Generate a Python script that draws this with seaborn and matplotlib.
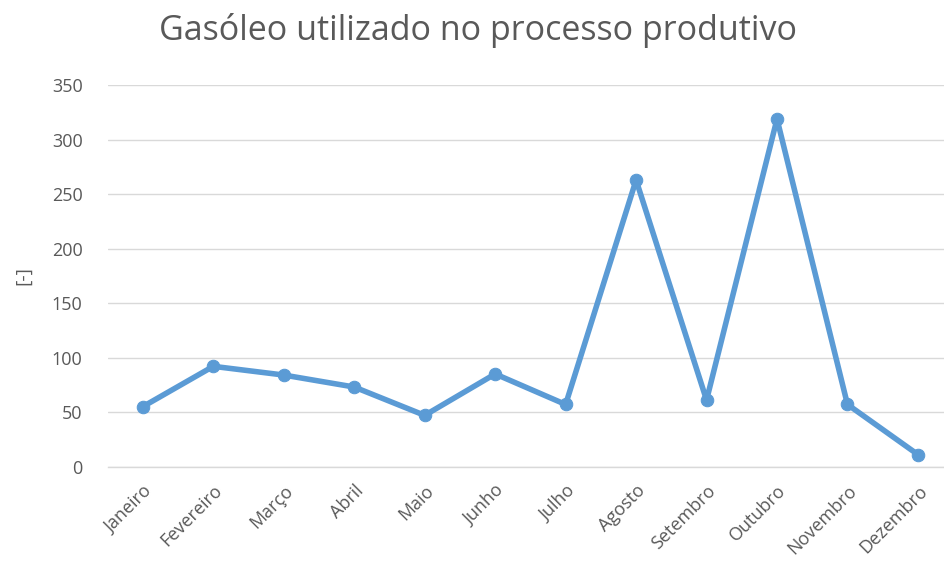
import pandas as pd
import matplotlib
matplotlib.use('Agg')
import matplotlib.pyplot as plt
import seaborn as sns

months = ['Janeiro', 'Fevereiro', 'Março', 'Abril', 'Maio', 'Junho',
          'Julho', 'Agosto', 'Setembro', 'Outubro', 'Novembro', 'Dezembro']
values = [55, 92, 84, 73, 47, 85, 57, 263, 61, 319, 57, 11]

df = pd.DataFrame({'Mes': months, 'Valor': values})
df['pos'] = range(len(months))

sns.set_style('white')
plt.rcParams['font.family'] = ['Open Sans', 'DejaVu Sans']

grey = '#595959'
blue = '#5B9BD5'

fig = plt.figure(figsize=(9.44, 5.76), dpi=100)
ax = fig.add_axes([0.114, 0.190, 0.886, 0.662])

sns.lineplot(x='pos', y='Valor', data=df, ax=ax, color=blue, linewidth=4,
             marker='o', markersize=9, markeredgecolor=blue, zorder=3)

ax.set_xlim(-0.5, 11.37)
ax.set_ylim(0, 350)
ax.set_yticks(range(0, 351, 50))
ax.grid(axis='y', color='#D9D9D9', linewidth=1.0)
ax.set_axisbelow(True)
for s in ax.spines.values():
    s.set_visible(False)
ax.spines['bottom'].set_visible(True)
ax.spines['bottom'].set_color('#D9D9D9')
ax.spines['bottom'].set_linewidth(1.0)

ax.set_xticks(df['pos'])
ax.set_xticklabels(months, rotation=45, ha='right', rotation_mode='anchor',
                   fontsize=13, color=grey)
ax.tick_params(axis='y', labelsize=13, labelcolor=grey, length=0, pad=18)
ax.tick_params(axis='x', length=0, pad=11)

ax.set_xlabel('')
ax.set_ylabel('[-]', fontsize=14, color=grey, labelpad=14)

fig.suptitle('Gasóleo utilizado no processo produtivo', fontsize=24.5,
             color=grey, x=0.506, y=0.978)

fig.savefig('out.png', dpi=100)
